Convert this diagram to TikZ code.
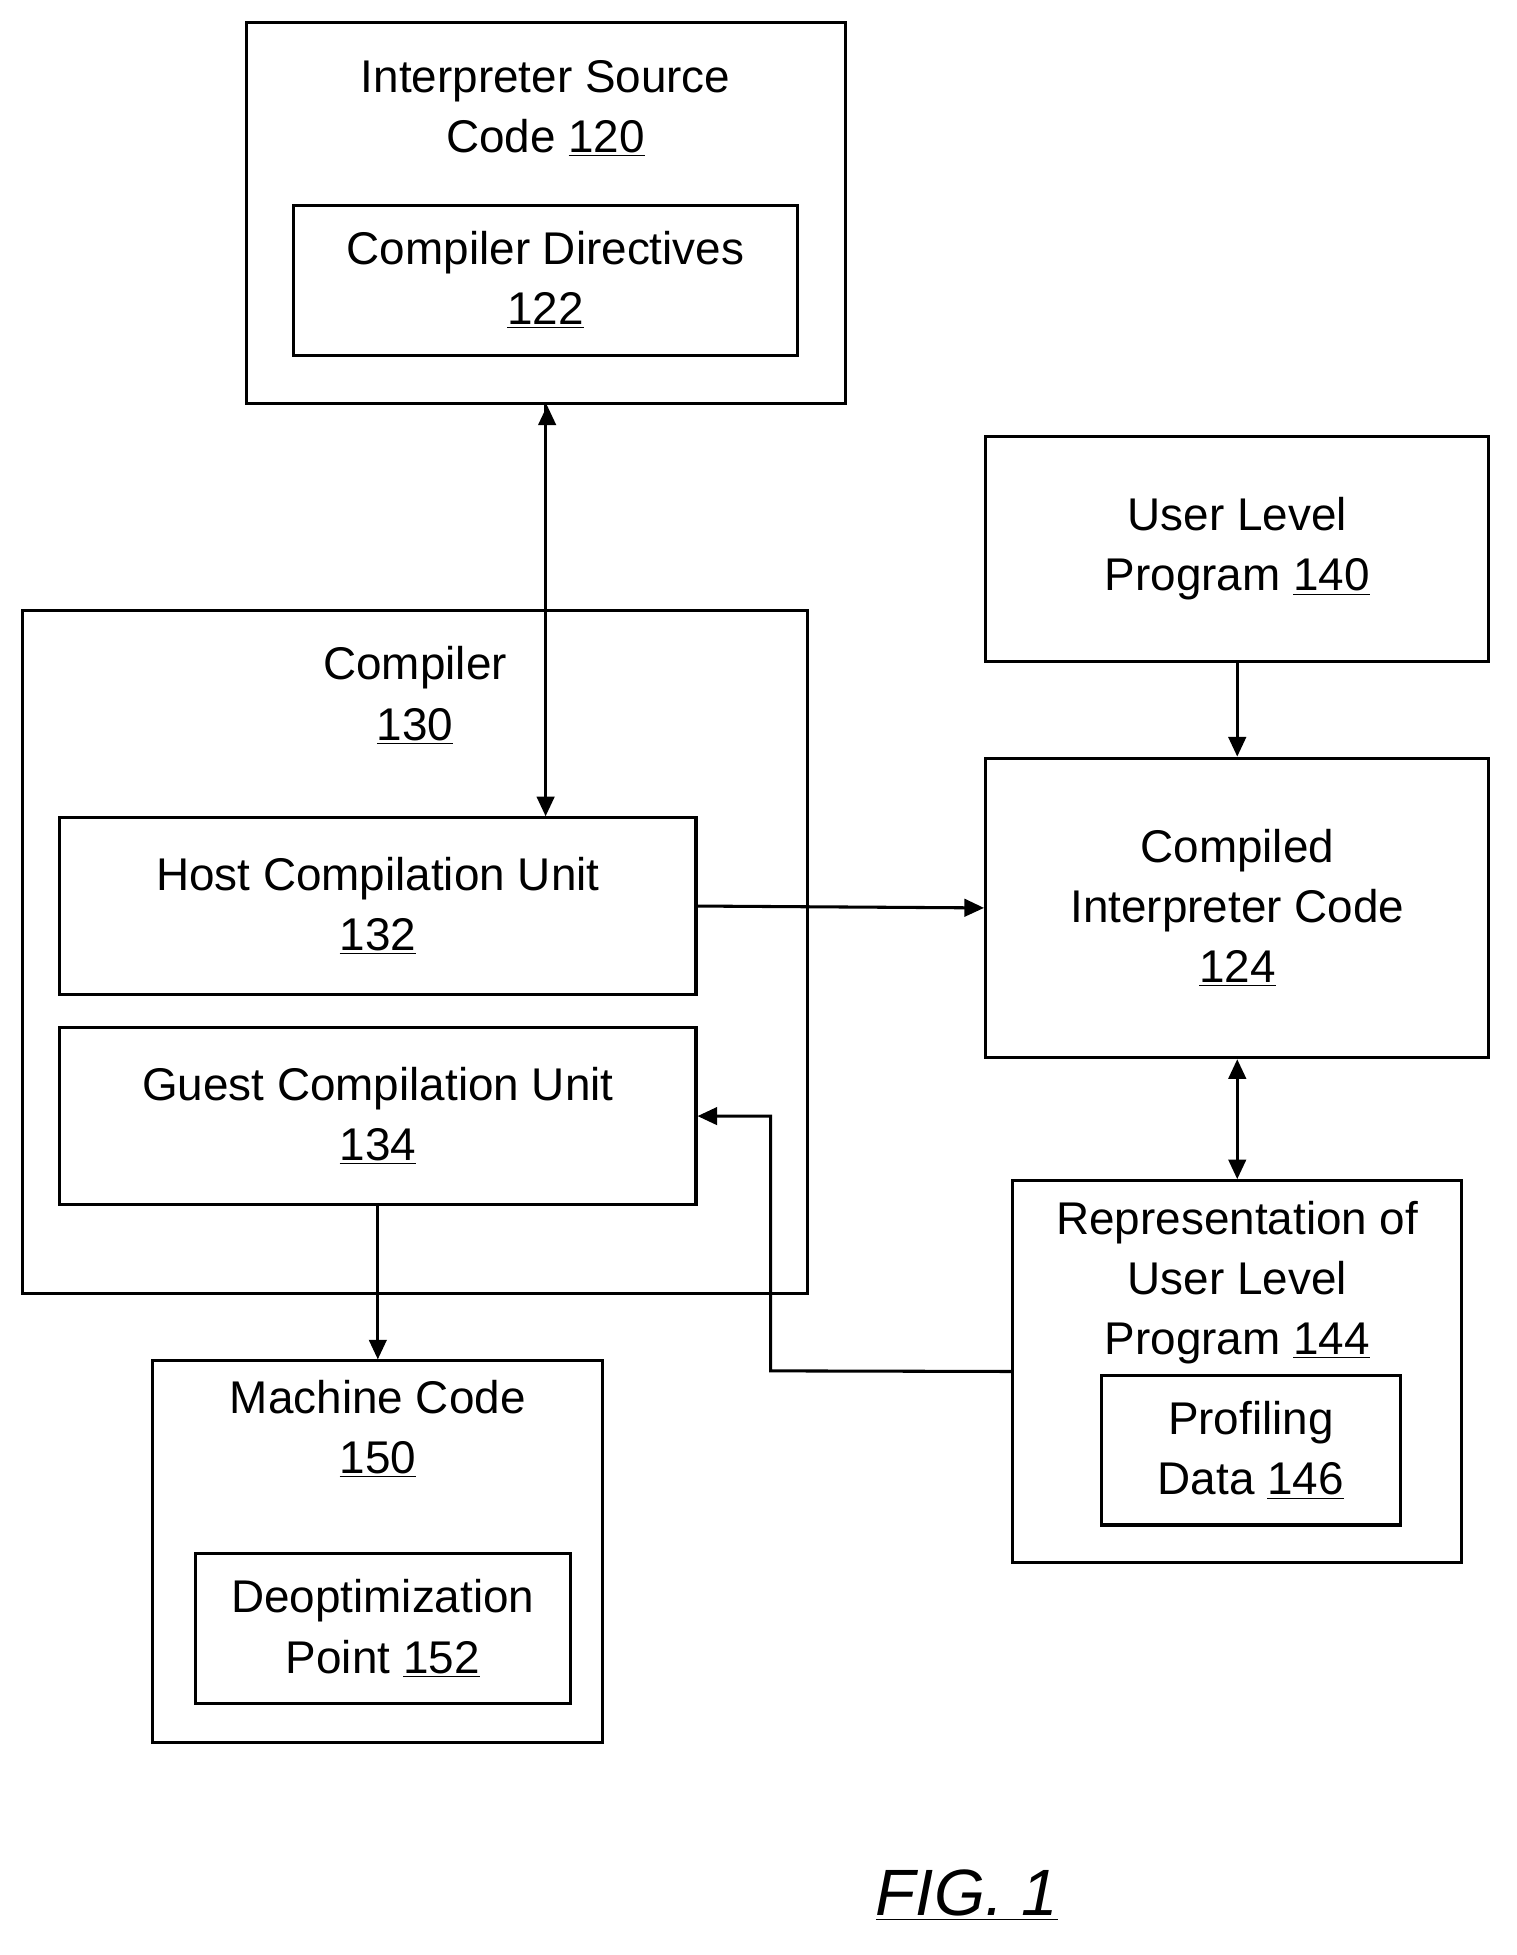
\documentclass[tikz,border=0pt]{standalone}
\usepackage{fontspec}
\setmainfont{Liberation Sans}
\usetikzlibrary{arrows.meta,positioning}
\newcommand{\refnum}[1]{\underline{#1}}
\begin{document}
\begin{tikzpicture}[x=0.02cm,y=-0.02cm,>={Triangle[length=9pt,width=8pt]},
  box/.style={draw,line width=1.4pt,inner sep=0pt},
  txt/.style={align=center,font=\fontsize{21}{27.5}\selectfont,inner sep=0pt}]
\useasboundingbox (0,0) rectangle (1220,1573);
% outer boxes
\node[box,minimum width=482*0.02cm,minimum height=307*0.02cm] (isc) at (439,171.5) {};
\node[txt,anchor=north] (isc_t) at (439,48) {Interpreter Source\\Code \refnum{120}};
\node[box,txt,minimum width=406*0.02cm,minimum height=121*0.02cm] (cd) at (439,225.5) {Compiler Directives\\\refnum{122}};
\node[box,txt,minimum width=405*0.02cm,minimum height=181*0.02cm] (ulp) at (995.5,441.5) {User Level\\Program \refnum{140}};
\node[box,minimum width=632*0.02cm,minimum height=550*0.02cm] (comp) at (334,766) {};
\node[txt,anchor=north] (comp_t) at (334,520) {Compiler\\\refnum{130}};
\node[box,txt,minimum width=512*0.02cm,minimum height=142*0.02cm] (host) at (304,729) {Host Compilation Unit\\\refnum{132}};
\node[box,txt,minimum width=512*0.02cm,minimum height=142*0.02cm] (guest) at (304,898) {Guest Compilation Unit\\\refnum{134}};
\node[box,txt,minimum width=405*0.02cm,minimum height=241*0.02cm] (cic) at (995.5,730.5) {Compiled\\Interpreter Code\\\refnum{124}};
\node[box,minimum width=361*0.02cm,minimum height=307*0.02cm] (rep) at (995.5,1103.5) {};
\node[txt,anchor=north] (rep_t) at (995.5,966) {Representation of\\User Level\\Program \refnum{144}};
\node[box,txt,minimum width=241*0.02cm,minimum height=120*0.02cm] (prof) at (1006.5,1167) {Profiling\\Data \refnum{146}};
\node[box,minimum width=362*0.02cm,minimum height=307*0.02cm] (mc) at (304,1248.5) {};
\node[txt,anchor=north] (mc_t) at (304,1110) {Machine Code\\\refnum{150}};
\node[box,txt,minimum width=302*0.02cm,minimum height=121*0.02cm] (deopt) at (308,1310.5) {Deoptimization\\Point \refnum{152}};
\node[txt,font=\fontsize{30}{34}\selectfont\itshape] (fig) at (778,1525) {\underline{FIG. 1}};
% connectors
\draw[->,line width=1.4pt] (isc.south -| host.north east) ++(-121,0) coordinate (a1);
\draw[->,line width=1.4pt] (439,325) coordinate (isc_b) -- (isc_b |- host.north);
\draw[->,line width=1.4pt] (host.east) -- (cic.west);
\draw[->,line width=1.4pt] (ulp.south) -- (cic.north);
\draw[<->,line width=1.4pt] (cic.south) -- (rep.north);
\draw[->,line width=1.4pt] (rep.west) -- (620,1103) -- (620,898) -- (guest.east);
\draw[->,line width=1.4pt] (guest.south) -- (mc.north);
\end{tikzpicture}
\end{document}
